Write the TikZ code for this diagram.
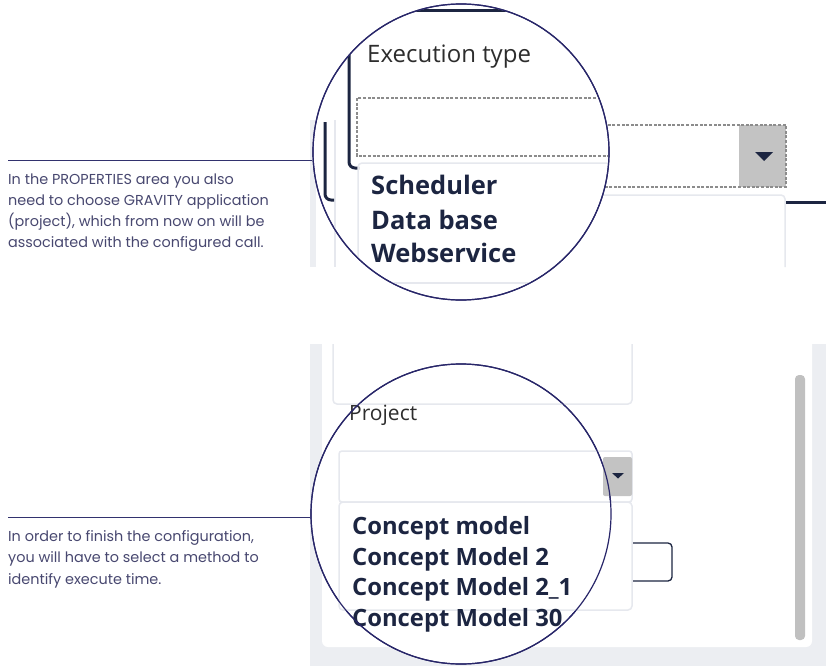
\documentclass[tikz,border=0pt]{standalone}
\usepackage{fontspec}
\setmainfont{Poppins}
\newfontfamily\uifont{Open Sans}
\definecolor{captext}{RGB}{72,72,112}
\definecolor{capline}{RGB}{50,50,110}
\definecolor{ringcol}{RGB}{40,38,105}
\definecolor{navy}{RGB}{28,37,65}
\definecolor{labeltext}{RGB}{45,45,45}
\definecolor{panelbg}{RGB}{236,238,242}
\definecolor{lightline}{RGB}{230,232,238}
\definecolor{dashgray}{RGB}{140,140,140}
\definecolor{btngray}{RGB}{195,195,195}
\definecolor{scrollgray}{RGB}{192,192,192}
\tikzset{
  captxt/.style={anchor=base west, inner sep=0, text=captext, font=\fontsize{14.4}{17}\selectfont},
  capconn/.style={draw=capline, line width=0.9pt},
  ring/.style={circle, draw=ringcol, line width=1.2pt, inner sep=0, fill=white},
  bracketline/.style={draw=navy, line width=3pt, rounded corners=6pt},
  dashbox/.style={draw=dashgray, line width=1.6pt, dash pattern=on 3pt off 1.6pt},
  lightbox/.style={draw=lightline, line width=1.5pt},
  itemtxt/.style={anchor=west, inner sep=0, text=navy, font=\uifont\bfseries\fontsize{25.5}{30}\selectfont},
  itemtxtb/.style={anchor=west, inner sep=0, text=navy, font=\uifont\bfseries\fontsize{23.8}{28}\selectfont},
  labeltxt/.style={anchor=west, inner sep=0, text=labeltext, font=\uifont\fontsize{24}{28}\selectfont},
}
\begin{document}
\begin{tikzpicture}[x=1pt,y=-1pt]
\useasboundingbox (0,0) rectangle (826,666);
\fill[white] (0,0) rectangle (826,666);

% ---------------- top: screenshot fragment outside the lens
\fill[panelbg] (310,120) rectangle (316,267);
\draw[lightbox] (335,120) -- (335,267);
\fill[btngray] (739,125) rectangle (786,187);
\draw[dashbox] (340,125) rectangle (786,187);
\fill[navy] (755,152) -- (773,152) -- (764,161) -- cycle;
\draw[lightbox, rounded corners=4pt] (340,195) -- (785,195) -- (785,267);
\draw[navy, line width=3pt] (786,202) -- (826,202);

% top lens
\node[ring, minimum size=296pt] (zoom1) at (461,152) {};
\begin{scope}
\clip (461,152) circle[radius=147.4pt];
\draw[navy, line width=3pt] (380,11) -- (540,11);
\draw[lightbox] (335,120) -- (335,300);
\draw[bracketline] (349,0) -- (349,168) -- (359,168);
\draw[bracketline] (325,122) -- (325,200) -- (334,200);
\draw[dashbox] (357,98) rectangle (660,156);
\draw[lightbox, rounded corners=4pt] (358,300) -- (358,163) -- (660,163);
\draw[lightbox] (358,283) -- (660,283);
\end{scope}
\node[labeltxt] (exectype) at (367,57) {Execution type};
\node[itemtxt] (sched) at (371,185) {Scheduler};
\node[itemtxt] (dbase) at (371,220) {Data base};
\node[itemtxt] (websvc) at (371,253) {Webservice};
\draw[ringcol, line width=1.2pt] (461,152) circle[radius=148pt];

% top caption
\coordinate (c1start) at (8,160);
\draw[capconn] (c1start) -- (c1start -| zoom1.west);
\node[captxt] (t1a) at (8,184) {In the PROPERTIES area you also};
\node[captxt] (t1b) at (8,205) {need to choose GRAVITY application};
\node[captxt] (t1c) at (8,226) {(project), which from now on will be};
\node[captxt] (t1d) at (8,247) {associated with the configured call.};

% ---------------- bottom: screenshot
\fill[panelbg] (310,344) rectangle (826,666);
\fill[white] (322,344) [rounded corners=6pt] -- (322,647) -- (812,647) [sharp corners] -- (812,344) -- cycle;
\node[ring, minimum size=300pt] (zoom2) at (461,514) {};
\draw[lightbox, rounded corners=4pt] (333,344) -- (333,404) -- (632,404) -- (632,344);
\fill[scrollgray, rounded corners=4pt] (795,375) rectangle (805,640);
\node[labeltxt, font=\uifont\fontsize{21}{25}\selectfont] (project) at (349,415) {Project};
\draw[lightbox, rounded corners=3pt] (339,451) rectangle (632,502);
\fill[btngray, rounded corners=2pt] (603,457) rectangle (632,496);
\fill[navy] (612,473) -- (624,473) -- (618,478.5) -- cycle;
\draw[navy, line width=1.3pt, rounded corners=4pt] (600,543) rectangle (672,581);
\filldraw[fill=white, draw=lightline, line width=1.5pt, rounded corners=4pt] (339,502) rectangle (632,610);
\node[itemtxtb] (cm1) at (352,528) {Concept model};
\node[itemtxtb] (cm2) at (352,559) {Concept Model 2};
\node[itemtxtb] (cm3) at (352,589) {Concept Model 2\_1};
\node[itemtxtb] (cm4) at (352,620) {Concept Model 30};
\draw[ringcol, line width=1.2pt] (461,514) circle[radius=150pt];

% bottom caption
\coordinate (c2start) at (8,517);
\draw[capconn] (c2start) -- (c2start -| zoom2.west);
\node[captxt] (t2a) at (8,541) {In order to finish the configuration,};
\node[captxt] (t2b) at (8,562) {you will have to select a method to};
\node[captxt] (t2c) at (8,584) {identify execute time.};
\end{tikzpicture}
\end{document}
